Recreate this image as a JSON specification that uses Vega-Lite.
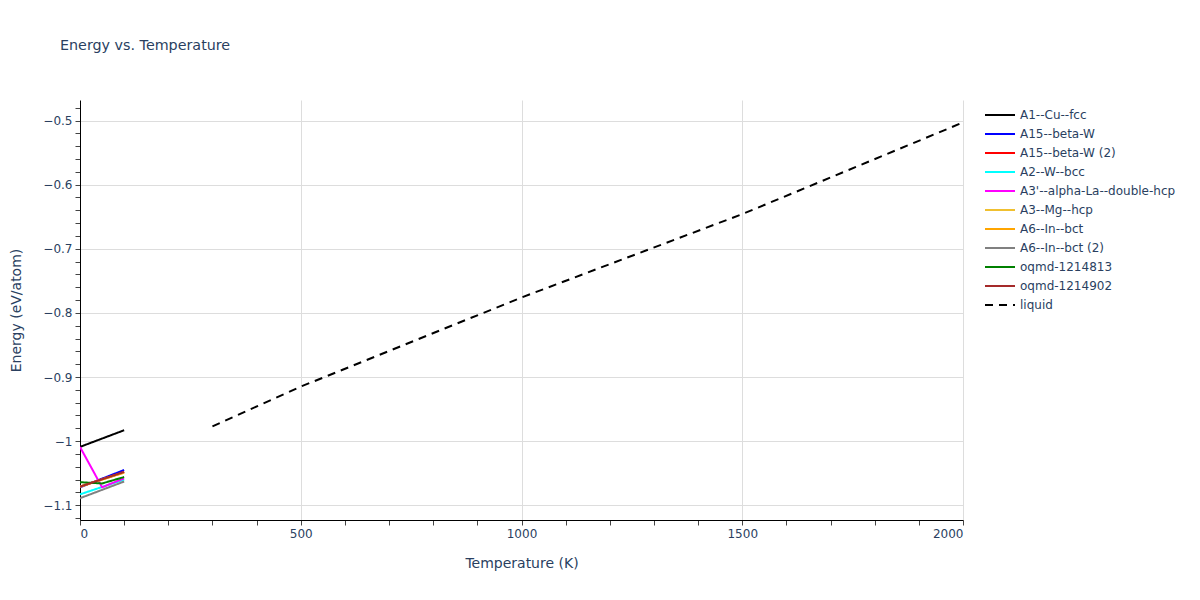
{
  "$schema": "https://vega.github.io/schema/vega-lite/v6.json",
  "width": 883,
  "height": 420,
  "autosize": {"type": "none"},
  "padding": {"left": 80, "top": 100, "right": 237, "bottom": 80},
  "background": "white",
  "config": {
    "font": "DejaVu Sans",
    "view": {"stroke": null},
    "axis": {"labelColor": "#2a3f5f", "titleColor": "#2a3f5f", "labelFontSize": 12, "titleFontSize": 14, "titleFontWeight": "normal", "gridColor": "#dddddd", "domainColor": "#000000", "tickColor": "#444444", "labelFont": "DejaVu Sans", "titleFont": "DejaVu Sans"},
    "legend": {"labelColor": "#2a3f5f", "labelFontSize": 12, "labelFont": "DejaVu Sans", "symbolStrokeWidth": 2, "symbolType": "M-1.5,0H1.5", "symbolSize": 400, "rowPadding": 2, "labelOffset": 9}
  },
  "title": {"text": "Energy vs. Temperature", "anchor": "start", "frame": "group", "dx": -20, "offset": 47, "fontSize": 14.3, "fontWeight": "normal", "color": "#2a3f5f", "font": "DejaVu Sans"},
  "data": {"values": [
    {"series": "A1--Cu--fcc", "T": 0, "E": -1.009},
    {"series": "A1--Cu--fcc", "T": 100, "E": -0.983},
    {"series": "A15--beta-W", "T": 0, "E": -1.072},
    {"series": "A15--beta-W", "T": 100, "E": -1.045},
    {"series": "A15--beta-W (2)", "T": 0, "E": -1.071},
    {"series": "A15--beta-W (2)", "T": 100, "E": -1.048},
    {"series": "A2--W--bcc", "T": 0, "E": -1.083},
    {"series": "A2--W--bcc", "T": 100, "E": -1.060},
    {"series": "A3'--alpha-La--double-hcp", "T": 0, "E": -1.009},
    {"series": "A3'--alpha-La--double-hcp", "T": 50, "E": -1.072},
    {"series": "A3'--alpha-La--double-hcp", "T": 100, "E": -1.058},
    {"series": "A3--Mg--hcp", "T": 0, "E": -1.071},
    {"series": "A3--Mg--hcp", "T": 100, "E": -1.049},
    {"series": "A6--In--bct", "T": 0, "E": -1.071},
    {"series": "A6--In--bct", "T": 100, "E": -1.049},
    {"series": "A6--In--bct (2)", "T": 0, "E": -1.089},
    {"series": "A6--In--bct (2)", "T": 100, "E": -1.063},
    {"series": "oqmd-1214813", "T": 0, "E": -1.064},
    {"series": "oqmd-1214813", "T": 50, "E": -1.066},
    {"series": "oqmd-1214813", "T": 100, "E": -1.056},
    {"series": "oqmd-1214902", "T": 0, "E": -1.071},
    {"series": "oqmd-1214902", "T": 100, "E": -1.048},
    {"series": "liquid", "T": 300, "E": -0.977},
    {"series": "liquid", "T": 500, "E": -0.915},
    {"series": "liquid", "T": 1000, "E": -0.776},
    {"series": "liquid", "T": 1500, "E": -0.646},
    {"series": "liquid", "T": 2000, "E": -0.503}
  ]},
  "mark": {"type": "line", "strokeWidth": 2, "clip": true},
  "encoding": {
    "x": {"field": "T", "type": "quantitative", "scale": {"domain": [0, 2000], "nice": false, "zero": false},
      "axis": {"title": "Temperature (K)", "titlePadding": 17,
        "values": [0,100,200,300,400,500,600,700,800,900,1000,1100,1200,1300,1400,1500,1600,1700,1800,1900,2000],
        "labelExpr": "datum.value % 500 == 0 ? format(datum.value, 'd') : ''",
        "grid": true,
        "gridOpacity": {"condition": {"test": "datum.value % 500 == 0 && datum.value > 0", "value": 1}, "value": 0},
        "tickSize": 5, "labelPadding": 3}},
    "y": {"field": "E", "type": "quantitative", "scale": {"domain": [-1.123, -0.468], "nice": false, "zero": false},
      "axis": {"title": "Energy (eV/atom)", "titlePadding": 19,
        "values": [-1.12,-1.1,-1.08,-1.06,-1.04,-1.02,-1.0,-0.98,-0.96,-0.94,-0.92,-0.9,-0.88,-0.86,-0.84,-0.82,-0.8,-0.78,-0.76,-0.74,-0.72,-0.7,-0.68,-0.66,-0.64,-0.62,-0.6,-0.58,-0.56,-0.54,-0.52,-0.5,-0.48],
        "labelExpr": "abs(datum.value*10 - round(datum.value*10)) < 0.001 ? replace(format(datum.value, '.1~f'), '-', '\u2212') : ''",
        "grid": true,
        "gridOpacity": {"condition": {"test": "abs(datum.value*10 - round(datum.value*10)) < 0.001", "value": 1}, "value": 0},
        "tickSize": 5, "labelPadding": 3}},
    "color": {"field": "series", "type": "nominal",
      "scale": {"domain": ["A1--Cu--fcc", "A15--beta-W", "A15--beta-W (2)", "A2--W--bcc", "A3'--alpha-La--double-hcp", "A3--Mg--hcp", "A6--In--bct", "A6--In--bct (2)", "oqmd-1214813", "oqmd-1214902", "liquid"],
        "range": ["#000000", "#0000ff", "#ff0000", "#00ffff", "#ff00ff", "#f0c030", "#ffa500", "#808080", "#008000", "#a52a2a", "#000000"]},
      "legend": {"title": null, "orient": "none", "legendX": 909, "legendY": 4}},
    "strokeDash": {"field": "series", "type": "nominal",
      "scale": {"domain": ["A1--Cu--fcc", "A15--beta-W", "A15--beta-W (2)", "A2--W--bcc", "A3'--alpha-La--double-hcp", "A3--Mg--hcp", "A6--In--bct", "A6--In--bct (2)", "oqmd-1214813", "oqmd-1214902", "liquid"],
        "range": [[1,0],[1,0],[1,0],[1,0],[1,0],[1,0],[1,0],[1,0],[1,0],[1,0],[8,6]]},
      "legend": {"title": null, "orient": "none", "legendX": 909, "legendY": 4}},
    "order": {"field": "series"}
  }
}
